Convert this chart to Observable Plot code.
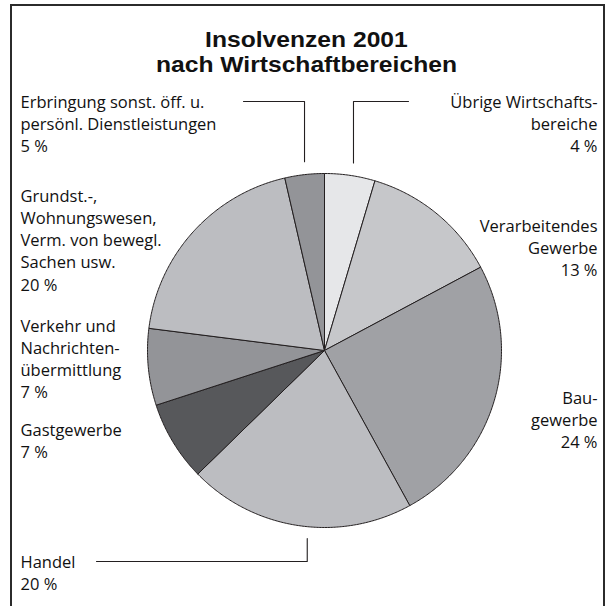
<!DOCTYPE html>
<html><head><meta charset="utf-8">
<script src="https://cdn.jsdelivr.net/npm/d3@7"></script>
<script src="https://cdn.jsdelivr.net/npm/@observablehq/plot@0.6"></script>
<style>
html,body{margin:0;padding:0;background:#fff;}
#wrap{position:relative;width:613px;height:606px;overflow:hidden;font-family:"Open Sans",sans-serif;color:#111;}
#chart{position:absolute;left:0;top:0;}
#frame{position:absolute;left:10px;top:4px;width:595px;height:640px;border:2.5px solid #2b2b2b;box-sizing:border-box;pointer-events:none;}
.title{position:absolute;left:0;width:613px;text-align:center;font-family:"Liberation Sans",Arial,sans-serif;font-weight:700;font-size:22px;line-height:24px;height:24px;color:#111;transform:scaleX(1.12);transform-origin:307px 50%;}
</style></head>
<body>
<div id="wrap"><div id="chart"></div><div id="frame"></div>
<div class="title" style="top:27.5px">Insolvenzen 2001</div>
<div class="title" style="top:52.5px">nach Wirtschaftbereichen</div></div>
<script>
// ---- data (clockwise from 12 o'clock) ----
const sectors = [
  "Übrige Wirtschaftsbereiche",
  "Verarbeitendes Gewerbe",
  "Baugewerbe",
  "Handel",
  "Gastgewerbe",
  "Verkehr und Nachrichtenübermittlung",
  "Grundst.-, Wohnungswesen, Verm. von bewegl. Sachen usw.",
  "Erbringung sonst. öff. u. persönl. Dienstleistungen"
];
// slice sizes as drawn in the picture (percent)
const shares = [4.6, 12.6, 24.8, 20.7, 7.3, 7.0, 19.4, 3.6];
// printed percentage labels
const percentLabels = ["4 %", "13 %", "24 %", "20 %", "7 %", "7 %", "20 %", "5 %"];
// printed label lines (without percentage)
const labelLines = [
  ["Übrige Wirtschafts-", "bereiche"],
  ["Verarbeitendes", "Gewerbe"],
  ["Bau-", "gewerbe"],
  ["Handel"],
  ["Gastgewerbe"],
  ["Verkehr und", "Nachrichten-", "übermittlung"],
  ["Grundst.-,", "Wohnungswesen,", "Verm. von bewegl.", "Sachen usw."],
  ["Erbringung sonst. öff. u.", "persönl. Dienstleistungen"]
];
const colors = ["#e6e7e9", "#c6c7ca", "#a0a1a5", "#bcbdc1", "#57585b", "#939498", "#bcbdc1", "#939498"];

// ---- layout ----
const W = 613, H = 606;
const cx = 324, cy = 350, r = 177;
const leftX = 20, rightX = 597, lineH = 22.2;
const labelLayout = [
  {side: "right", top: 102},
  {side: "right", top: 226},
  {side: "right", top: 398},
  {side: "left", top: 562},
  {side: "left", top: 430},
  {side: "left", top: 326},
  {side: "left", top: 196},
  {side: "left", top: 102}
];
const leaders = [ // horizontal end of leader line, gap from pie, angular nudge of the leader (rad)
  {i: 0, xEnd: 408, gap: 13, nudge: 0.02},
  {i: 7, xEnd: 243, gap: 13, nudge: 0},
  {i: 3, xEnd: 96, gap: 12, nudge: -0.05}
];

// ---- pie geometry ----
const total = d3.sum(shares);
let acc = 0;
const slices = shares.map((v, i) => {
  const a0 = acc / total * 2 * Math.PI; acc += v;
  const a1 = acc / total * 2 * Math.PI;
  return {i, name: sectors[i], a0, a1, mid: (a0 + a1) / 2, color: colors[i]};
});
const px = a => cx + r * Math.sin(a), py = a => cy - r * Math.cos(a);
const piePts = [];
for (const s of slices) {
  piePts.push({name: s.name, color: s.color, x: cx, y: cy});
  const n = Math.max(2, Math.ceil((s.a1 - s.a0) / (Math.PI / 360)));
  for (let k = 0; k <= n; k++) {
    const a = s.a0 + (s.a1 - s.a0) * k / n;
    piePts.push({name: s.name, color: s.color, x: px(a), y: py(a)});
  }
  piePts.push({name: s.name, color: s.color, x: cx, y: cy});
}

// ---- labels ----
const textRows = [];
slices.forEach((s, i) => {
  const L = labelLayout[i];
  const lines = [...labelLines[i], percentLabels[i]];
  lines.forEach((t, k) => textRows.push({side: L.side, x: L.side === "left" ? leftX : rightX, y: L.top + k * lineH, text: t}));
});

// ---- leaders ----
const leaderPts = [];
for (const L of leaders) {
  const s = slices[L.i];
  const a = s.mid + L.nudge;
  const xv = cx + r * Math.sin(a);
  const yv = cy - (r + L.gap) * Math.sign(Math.cos(a)) * Math.max(Math.abs(Math.cos(a)), 0.95);
  const yl = labelLayout[L.i].top - 1;
  leaderPts.push({k: L.i, x: L.xEnd, y: yl}, {k: L.i, x: xv, y: yl}, {k: L.i, x: xv, y: yv});
}

const font = "'Open Sans', sans-serif";
const chart = Plot.plot({
  width: W, height: H,
  margin: 0,
  x: {domain: [0, W], range: [0, W], axis: null},
  y: {domain: [0, H], range: [0, H], axis: null},
  color: {type: "identity"},
  style: {background: "transparent", overflow: "visible"},
  marks: [
    Plot.line(piePts, {x: "x", y: "y", z: "name", fill: "color", stroke: "#231f20", strokeWidth: 1, curve: "linear"}),
    Plot.line(leaderPts, {x: "x", y: "y", z: "k", stroke: "#231f20", strokeWidth: 1.1}),
    Plot.text(textRows.filter(d => d.side === "left"), {x: "x", y: "y", text: "text", textAnchor: "start", lineAnchor: "middle", fontSize: 16.5, fontFamily: font, fill: "#111"}),
    Plot.text(textRows.filter(d => d.side === "right"), {x: "x", y: "y", text: "text", textAnchor: "end", lineAnchor: "middle", fontSize: 16.5, fontFamily: font, fill: "#111"})
  ]
});
document.getElementById("chart").appendChild(chart);
</script>
</body></html>
